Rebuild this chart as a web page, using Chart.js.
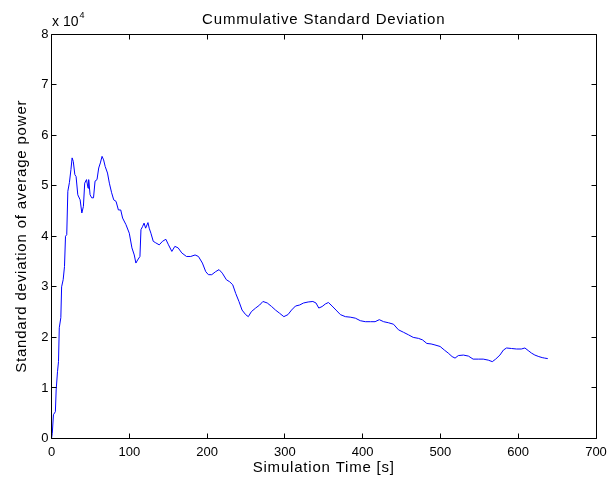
<!DOCTYPE html>
<html>
<head>
<meta charset="utf-8">
<script src="https://cdn.jsdelivr.net/npm/chart.js@4.4.1/dist/chart.umd.min.js"></script>
<style>
html,body{margin:0;padding:0;background:#fff;}
canvas{display:block;}
</style>
</head>
<body>
<canvas id="c" width="614" height="485"></canvas>
<script>
// Simulation time [s]
const timeS = [0,1,2.5,5,6,7.7,9,10,12,13,15,16.7,18,19.6,21,23,25,26.5,28,30,31.6,33.8,36.8,39,41,42.7,45,47,47.8,49.6,51.7,54,56,58.5,60.7,62.8,65,67,69,72,74.4,77.3,80,83,86,89,91.4,95.7,100,103.4,106.4,108.5,110.7,113.7,115,117,119,121,124,125.6,127.8,130.8,134,138.5,142.7,147,150.4,154.7,158.6,162.8,167.5,173.5,179,184.6,188.9,194,198.3,201.7,206,211,215.4,219.6,224.8,229,233,236.8,241,245,249.6,253,257,262.4,267.6,271.8,277.4,283,288,293,298.7,304,308.6,313.7,319,324,330,336,340,343.6,347.9,352,356,360.7,365.8,371.4,377.8,384,390.6,397,403.4,410,416,421.4,427,433,439.7,446,452.6,459,465,471.8,477,482.5,488,493,499.6,505,510,515,518.8,523,529.5,536,542,548.7,555,561.5,566.7,571,576.5,581,585,591.4,597.8,604,608.6,612.8,617,621.4,626.5,630.8,634,638];
// Standard deviation of average power, in units of 10^4
const stdDev = [0,0.1,0.47,0.53,0.96,1.32,1.52,2.19,2.39,3.0,3.14,3.4,4.0,4.03,4.89,5.06,5.32,5.55,5.48,5.22,5.18,4.82,4.72,4.46,4.59,5.05,5.12,4.95,5.12,4.82,4.76,4.76,5.09,5.12,5.35,5.45,5.58,5.51,5.38,5.25,5.05,4.86,4.72,4.69,4.52,4.52,4.36,4.23,4.06,3.77,3.63,3.47,3.53,3.6,4.13,4.19,4.26,4.16,4.27,4.16,4.06,3.9,3.87,3.83,3.9,3.94,3.83,3.7,3.8,3.77,3.67,3.6,3.6,3.63,3.6,3.47,3.3,3.24,3.24,3.3,3.34,3.27,3.14,3.1,3.04,2.87,2.71,2.54,2.45,2.41,2.51,2.58,2.64,2.71,2.68,2.61,2.54,2.48,2.41,2.45,2.54,2.62,2.64,2.68,2.7,2.71,2.68,2.58,2.61,2.66,2.69,2.62,2.54,2.45,2.41,2.4,2.38,2.33,2.31,2.31,2.31,2.35,2.31,2.29,2.26,2.15,2.1,2.05,2.0,1.98,1.95,1.88,1.87,1.85,1.82,1.75,1.69,1.62,1.59,1.64,1.65,1.63,1.57,1.57,1.57,1.55,1.52,1.57,1.65,1.75,1.79,1.78,1.77,1.77,1.79,1.74,1.69,1.65,1.62,1.6,1.59,1.58];
const xTicks = [0,100,200,300,400,500,600,700];
const yTicks = [0,1,2,3,4,5,6,7,8];
const titleText = 'Cummulative Standard Deviation';
const xLabel = 'Simulation Time [s]';
const yLabel = 'Standard deviation of average power';
const expBase = 'x 10';
const expPow = '4';

const points = timeS.map((t, i) => ({x: t, y: stdDev[i]}));
const FONT = "'Liberation Sans', Arial, Helvetica, sans-serif";

const matlabFrame = {
  id: 'matlabFrame',
  afterDraw(chart) {
    const ctx = chart.ctx;
    const a = chart.chartArea;
    const xs = chart.scales.x, ys = chart.scales.y;
    const L = Math.floor(a.left) + 0.5, R = Math.floor(a.right) + 0.5;
    const T = Math.floor(a.top) + 0.5, B = Math.floor(a.bottom) + 0.5;
    ctx.save();
    ctx.strokeStyle = '#000';
    ctx.lineWidth = 1;
    ctx.beginPath();
    ctx.rect(L, T, R - L, B - T);
    const tl = 5;
    xTicks.forEach(v => {
      const p = Math.floor(xs.getPixelForValue(v)) + 0.5;
      ctx.moveTo(p, B); ctx.lineTo(p, B - tl);
      ctx.moveTo(p, T); ctx.lineTo(p, T + tl);
    });
    yTicks.forEach(v => {
      const p = Math.floor(ys.getPixelForValue(v)) + 0.5;
      ctx.moveTo(L, p); ctx.lineTo(L + tl, p);
      ctx.moveTo(R, p); ctx.lineTo(R - tl, p);
    });
    ctx.stroke();

    ctx.fillStyle = '#000';
    try { ctx.letterSpacing = '0.8px'; } catch (e) {}
    ctx.font = '15px ' + FONT;
    ctx.textAlign = 'center';
    ctx.textBaseline = 'alphabetic';
    const cx = (a.left + a.right) / 2;
    ctx.fillText(titleText, cx, 24);
    ctx.fillText(xLabel, cx, 472);
    ctx.save();
    ctx.translate(26, (a.top + a.bottom) / 2);
    ctx.rotate(-Math.PI / 2);
    ctx.fillText(yLabel, 0, 0);
    ctx.restore();
    try { ctx.letterSpacing = '0px'; } catch (e) {}
    ctx.textAlign = 'left';
    ctx.font = '14px ' + FONT;
    ctx.fillText(expBase, 52, 26);
    const w = ctx.measureText(expBase).width;
    ctx.font = '9px ' + FONT;
    ctx.fillText(expPow, 52 + w + 1, 18);
    ctx.restore();
  }
};

new Chart(document.getElementById('c'), {
  type: 'line',
  data: {
    datasets: [{
      data: points,
      borderColor: '#0000ff',
      borderWidth: 1,
      pointRadius: 0,
      tension: 0,
      fill: false
    }]
  },
  options: {
    responsive: false,
    animation: false,
    parsing: true,
    layout: {padding: {top: 34, right: 18, left: 0, bottom: 0}},
    plugins: {legend: {display: false}, title: {display: false}, tooltip: {enabled: false}},
    scales: {
      x: {
        type: 'linear',
        min: 0, max: 700,
        afterBuildTicks: s => { s.ticks = xTicks.map(v => ({value: v})); },
        ticks: {color: '#000', font: {family: FONT, size: 13}, padding: 6, maxRotation: 0, autoSkip: false},
        grid: {display: false, drawTicks: false},
        border: {display: false},
        afterFit: s => { s.height = 46.5; }
      },
      y: {
        type: 'linear',
        min: 0, max: 8,
        afterBuildTicks: s => { s.ticks = yTicks.map(v => ({value: v})); },
        ticks: {color: '#000', font: {family: FONT, size: 13}, padding: 3, autoSkip: false},
        grid: {display: false, drawTicks: false},
        border: {display: false},
        afterFit: s => { s.width = 51.5; }
      }
    }
  },
  plugins: [matlabFrame]
});
</script>
</body>
</html>
